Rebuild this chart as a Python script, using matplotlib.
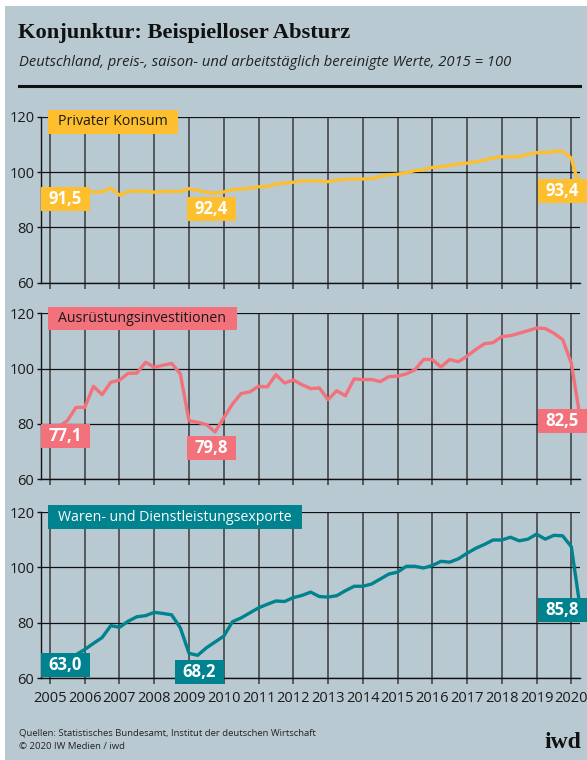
import numpy as np
import matplotlib
matplotlib.use('Agg')
import matplotlib.pyplot as plt
from matplotlib.patches import Rectangle
from matplotlib.lines import Line2D

W, H, DPI = 587, 760, 100

# quarterly values 2005 Q1 - 2020 Q2, 2015 = 100
konsum = [91.5, 91.8, 92.1, 92.4,
          92.6, 92.8, 92.8, 94.2,
          91.6, 93.0, 93.1, 93.1,
          92.7, 93.0, 93.0, 93.0,
          94.0, 93.4, 92.7, 92.4,
          92.8, 93.6, 93.9, 94.1,
          94.7, 94.7, 95.7, 96.0,
          96.3, 96.8, 96.8, 96.8,
          96.5, 97.1, 97.4, 97.4,
          97.5, 97.6, 98.4, 99.0,
          99.2, 99.8, 100.5, 100.8,
          101.7, 101.9, 102.4, 103.0,
          103.2, 103.7, 104.3, 105.1,
          105.5, 105.5, 105.5, 106.4,
          107.0, 107.0, 107.5, 107.5,
          105.0, 93.4]

investitionen = [77.1, 79.0, 81.2, 86.0,
                 86.0, 93.6, 90.6, 95.1,
                 95.8, 98.3, 98.4, 102.3,
                 100.5, 101.2, 101.9, 98.1,
                 81.2, 80.6, 79.8, 77.1,
                 82.2, 87.2, 91.0, 91.6,
                 93.6, 93.4, 97.8, 94.8,
                 95.9, 94.2, 92.8, 93.0,
                 88.8, 92.0, 90.2, 96.3,
                 96.0, 96.1, 95.3, 97.1,
                 97.3, 98.1, 99.6, 103.3,
                 103.3, 100.6, 103.3, 102.5,
                 104.5, 106.9, 109.0, 109.4,
                 111.6, 111.9, 112.8, 113.7,
                 114.7, 114.5, 112.8, 110.5,
                 102.0, 82.5]

exporte = [63.0, 65.0, 67.0, 68.5,
           70.4, 72.6, 74.7, 79.0,
           78.4, 80.6, 82.2, 82.6,
           83.8, 83.4, 82.9, 78.2,
           69.0, 68.3, 71.0, 73.1,
           75.2, 80.4, 81.8, 83.6,
           85.4, 86.7, 87.9, 87.7,
           89.1, 89.9, 91.1, 89.5,
           89.3, 89.8, 91.6, 93.2,
           93.2, 94.0, 95.8, 97.6,
           98.3, 100.4, 100.4, 99.8,
           100.7, 102.2, 101.9, 103.1,
           105.1, 106.9, 108.3, 109.9,
           109.9, 110.9, 109.6, 110.2,
           112.0, 110.2, 111.6, 111.4,
           107.5, 85.8]

years = list(range(2005, 2021))
series_names = ['Privater Konsum', 'Ausrüstungsinvestitionen',
                'Waren- und Dienstleistungsexporte']
series_values = [konsum, investitionen, exporte]
series_colors = ['#fdbf2e', '#f2717b', '#00838f']
name_text_colors = ['#1a1a1a', '#1a1a1a', 'white']

# value labels: text, anchor year, anchor value (box centre)
value_labels = [
    [('91,5', 2005.445, 90.2), ('92,4', 2009.635, 86.5), ('93,4', 2019.74, 93.2)],
    [('77,1', 2005.445, 75.7), ('79,8', 2009.635, 71.3), ('82,5', 2019.74, 80.9)],
    [('63,0', 2005.445, 64.7), ('68,2', 2009.30, 62.3), ('85,8', 2019.74, 84.7)],
]

bg = '#b9c9d1'
sans = 'Open Sans'

# panel positions in image pixels (top of 120 line, bottom 60 line)
panels_px = [(116.7, 282.7), (313.3, 479.3), (512.0, 678.3)]
left_px, right_px = 41.3, 580.0

fig = plt.figure(figsize=(W / DPI, H / DPI), dpi=DPI)
fig.patch.set_facecolor('white')
fig.add_artist(Rectangle((5 / W, 0), 1, 1 - 6 / H, transform=fig.transFigure,
                         facecolor=bg, edgecolor='none', zorder=-10))


def fy(y):
    return 1 - y / H


fig.text(18 / W, fy(33), 'Konjunktur: Beispielloser Absturz', family='Liberation Serif',
         fontweight='bold', fontsize=16.2, va='center', color='#111')
fig.text(19 / W, fy(63), 'Deutschland, preis-, saison- und arbeitstäglich bereinigte Werte, 2015 = 100',
         family=sans, style='italic', fontsize=10.6, va='center', color='#222')
fig.add_artist(Line2D([19 / W, 580 / W], [fy(86), fy(86)], color='#111', lw=2.2,
                      transform=fig.transFigure))

renderer = fig.canvas.get_renderer()
x = 2005 + np.arange(len(konsum)) / 4

for i, (top, bottom) in enumerate(panels_px):
    ax = fig.add_axes([left_px / W, fy(bottom), (right_px - left_px) / W, (bottom - top) / H])
    ax.set_facecolor('none')
    ax.set_xlim(2004.75, 2020.25)
    ax.set_ylim(60, 120)
    for s in ['top', 'right']:
        ax.spines[s].set_visible(False)
    for s in ['left', 'bottom']:
        ax.spines[s].set_color('#111')
        ax.spines[s].set_linewidth(1.0)
    ax.set_xticks(years)
    ax.set_yticks([60, 80, 100, 120])
    ax.xaxis.grid(True, color='#3a3a3a', lw=1.1)
    ax.yaxis.grid(True, color='#111', lw=0.9)
    ax.set_axisbelow(True)
    ax.tick_params(axis='x', length=4, width=1.1, color='#3a3a3a', pad=5,
                   labelsize=10.5, labelcolor='#1a1a1a')
    ax.tick_params(axis='y', length=3, width=1.0, color='#111', pad=2,
                   labelsize=10.5, labelcolor='#1a1a1a')
    for lab in ax.get_xticklabels() + ax.get_yticklabels():
        lab.set_family(sans)
    if i < 2:
        ax.set_xticklabels([])

    ax.plot(x, series_values[i], color=series_colors[i], lw=2.4, zorder=3,
            clip_on=False, solid_joinstyle='round')

    # series name box
    box_top = top - 6.7
    t = fig.text(58.5 / W, fy(box_top + 11.8), series_names[i], family=sans, fontsize=10.2,
                 color=name_text_colors[i], va='center', zorder=6)
    ext = t.get_window_extent(renderer)
    fig.add_artist(Rectangle((47.7 / W, fy(box_top + 23.5)), (ext.x1 + 10 - 47.7) / W, 23.5 / H,
                             transform=fig.transFigure, facecolor=series_colors[i],
                             edgecolor='none', zorder=5))

    # value boxes
    for txt, xv, yv in value_labels[i]:
        cx, cy = fig.transFigure.inverted().transform(ax.transData.transform((xv, yv)))
        fig.add_artist(Rectangle((cx - 24.5 / W, cy - 12 / H), 49 / W, 24 / H,
                                 transform=fig.transFigure, facecolor=series_colors[i],
                                 edgecolor='none', zorder=5))
        fig.text(cx, cy, txt, family=sans, fontweight='bold', fontsize=12, color='white',
                 ha='center', va='center', zorder=6)

fig.text(19 / W, fy(733), 'Quellen: Statistisches Bundesamt, Institut der deutschen Wirtschaft',
         family=sans, fontsize=6.8, va='center', color='#222')
fig.text(19 / W, fy(746.7), '© 2020 IW Medien / iwd', family=sans, fontsize=6.8,
         va='center', color='#222')
fig.text(581 / W, fy(743), 'iwd', family='Liberation Serif', fontweight='bold', fontsize=17,
         ha='right', va='center', color='#111')

fig.savefig('out.png', dpi=DPI, facecolor=fig.get_facecolor())
